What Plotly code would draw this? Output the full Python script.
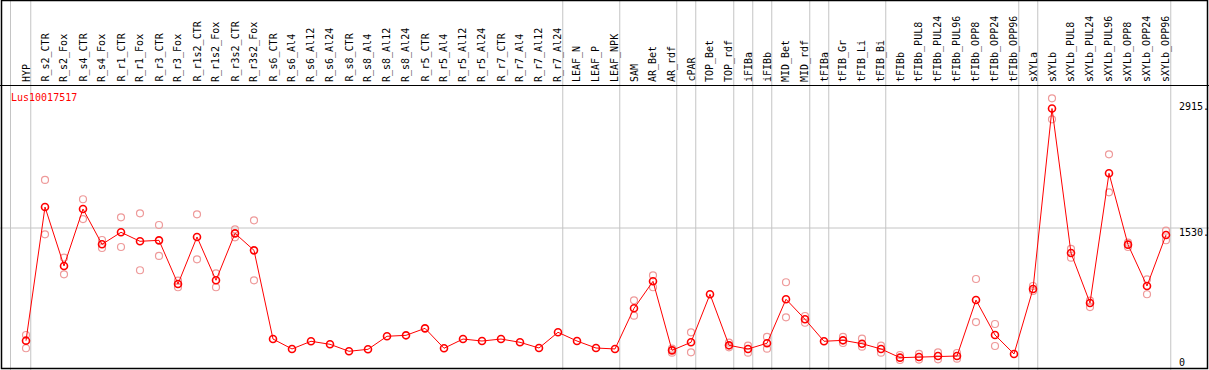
import plotly.graph_objects as go

categories = ["HYP", "R_s2_CTR", "R_s2_Fox", "R_s4_CTR", "R_s4_Fox", "R_r1_CTR", "R_r1_Fox",
              "R_r3_CTR", "R_r3_Fox", "R_r1s2_CTR", "R_r1s2_Fox", "R_r3s2_CTR", "R_r3s2_Fox",
              "R_s6_CTR", "R_s6_Al4", "R_s6_Al12", "R_s6_Al24", "R_s8_CTR", "R_s8_Al4", "R_s8_Al12",
              "R_s8_Al24", "R_r5_CTR", "R_r5_Al4", "R_r5_Al12", "R_r5_Al24", "R_r7_CTR", "R_r7_Al4",
              "R_r7_Al12", "R_r7_Al24", "LEAF_N", "LEAF_P", "LEAF_NPK", "SAM", "AR_Bet", "AR_rdf",
              "cPAR", "TOP_Bet", "TOP_rdf", "iFIBa", "iFIBb", "MID_Bet", "MID_rdf", "tFIBa",
              "tFIB_Gr", "tFIB_Li", "tFIB_Bi", "tFIBb", "tFIBb_PUL8", "tFIBb_PUL24", "tFIBb_PUL96",
              "tFIBb_OPP8", "tFIBb_OPP24", "tFIBb_OPP96", "sXYLa", "sXYLb", "sXYLb_PUL8",
              "sXYLb_PUL24", "sXYLb_PUL96", "sXYLb_OPP8", "sXYLb_OPP24", "sXYLb_OPP96"]

means = [224, 1773, 1090, 1750, 1341, 1480, 1376, 1387, 881, 1426, 924, 1468, 1271,
         243, 128, 217, 182, 101, 124, 275, 286, 367, 136, 243, 220, 243, 205, 139, 321,
         220, 139, 128,
         599, 912, 112, 205, 762, 170, 128, 194, 704, 472, 217, 228, 189, 128, 27,
         35, 46, 46, 695, 290, 70,
         823, 2915, 1240, 661, 2164, 1337, 858, 1449]

rep_hi = [290, 2087, 1186, 1863, 1391, 1654, 1700, 1565, 919, 1689, 1005, 1515, 1619,
          None, None, None, None, None, None, None, None, None, None, None, None, None, None, None, None,
          None, None, None,
          692, 982, 131, 321, None, 201, 166, 267, 901, 510, None, 267, 247, 166, 58,
          70, 89, 81, 939, 417, None,
          858, 3033, 1287, 688, 2384, 1360, 935, 1499]

rep_lo = [136, 1457, 993, 1634, 1298, 1310, 1040, 1206, 843, 1167, 843, 1422, 924,
          None, None, None, None, None, None, None, None, None, None, None, None, None, None, None, None,
          None, None, None,
          514, 843, 85, 89, None, 147, 85, 131, 495, 432, None, 197, 154, 85, 0,
          5, 8, 15, 440, 162, None,
          800, 2790, 1186, 614, 1944, 1310, 762, 1388]

# indices after which a group separator is drawn
group_ends = [0, 28, 31, 34, 35, 37, 38, 39, 41, 42, 45, 52, 53, 60]
axis_labels = [(2915, "2915.", 2), (1530, "1530.", -4), (0, "0", -2)]
gene = "Lus10017517"

W, H = 1209, 370
PX_X = 19.0          # pixels per category
X0_PX = 26.0         # pixel of first category
Y0_PX = 360.0        # pixel of value 0
PX_Y = 132.0 / 1530  # pixels per unit

x_idx = list(range(len(categories)))
xr = [-X0_PX / PX_X, (W - X0_PX) / PX_X]
yr = [-(H - Y0_PX) / PX_Y, Y0_PX / PX_Y]

FONT = "DejaVu Sans Mono"
RED = "#ff0000"
PINK = "#ee9a9a"
GRID = "#c4c4c4"

fig = go.Figure()

for reps in (rep_hi, rep_lo):
    fig.add_trace(go.Scatter(x=x_idx, y=reps, mode="markers",
                             marker=dict(symbol="circle-open", size=7, color=PINK,
                                         line=dict(width=1.2, color=PINK)),
                             hoverinfo="skip", showlegend=False, cliponaxis=False))

fig.add_trace(go.Scatter(x=x_idx, y=means, mode="lines+markers",
                         line=dict(color=RED, width=1),
                         marker=dict(symbol="circle-open", size=7, color=RED,
                                     line=dict(width=1.6, color=RED)),
                         text=categories, showlegend=False, cliponaxis=False))

shapes = []
# vertical group separators
shapes.append(dict(type="line", xref="paper", yref="paper", x0=10.5 / W, x1=10.5 / W, y0=0, y1=1,
                   line=dict(color=GRID, width=1), layer="below"))
for g in group_ends:
    shapes.append(dict(type="line", xref="x", yref="paper", x0=g + 0.25, x1=g + 0.25, y0=0, y1=1,
                       line=dict(color=GRID, width=1), layer="below"))
# horizontal gridline
shapes.append(dict(type="line", xref="paper", yref="y", x0=0, x1=1, y0=1530, y1=1530,
                   line=dict(color=GRID, width=1), layer="below"))
# header separator
shapes.append(dict(type="line", xref="paper", yref="paper", x0=0, x1=1,
                   y0=1 - 85.5 / H, y1=1 - 85.5 / H, line=dict(color="black", width=1)))
# frame
shapes.append(dict(type="rect", xref="paper", yref="paper", x0=1.5 / W, x1=1 - 1.5 / W,
                   y0=1.5 / H, y1=1 - 0.5 / H, line=dict(color="black", width=1.5)))

annotations = []
for i, c in enumerate(categories):
    annotations.append(dict(x=i, xref="x", y=1 - 84 / H, yref="paper", text=c, textangle=-90,
                            showarrow=False, xanchor="center", yanchor="bottom",
                            font=dict(family=FONT, size=10, color="black")))
annotations.append(dict(x=9 / W, xref="paper", y=1 - 97 / H, yref="paper", text=gene,
                        showarrow=False, xanchor="left", yanchor="middle",
                        font=dict(family=FONT, size=10, color=RED)))
for val, txt, shift in axis_labels:
    annotations.append(dict(x=1177 / W, xref="paper", y=val, yref="y", yshift=shift, text=txt,
                            showarrow=False, xanchor="left", yanchor="middle",
                            font=dict(family=FONT, size=10, color="black")))

fig.update_layout(
    width=W, height=H,
    margin=dict(l=0, r=0, t=0, b=0),
    paper_bgcolor="white", plot_bgcolor="white",
    xaxis=dict(range=xr, visible=False, fixedrange=True),
    yaxis=dict(range=yr, visible=False, fixedrange=True),
    shapes=shapes, annotations=annotations,
    showlegend=False,
)

fig.write_html("out.html",
               config={"displayModeBar": False},
               post_script="document.body.style.margin='0';document.body.style.padding='0';"
                           "document.documentElement.style.overflow='hidden';")
